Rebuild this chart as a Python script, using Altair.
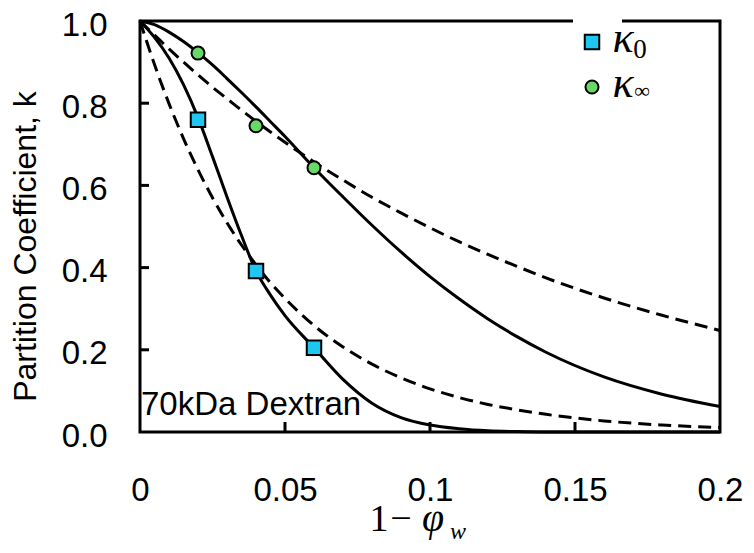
import altair as alt
import pandas as pd

# ---- data ----
phi = [0, 0.005, 0.01, 0.015, 0.02, 0.025, 0.03, 0.035, 0.04, 0.045, 0.05,
       0.06, 0.07, 0.08, 0.09, 0.10, 0.11, 0.12, 0.13, 0.14, 0.16, 0.18, 0.20]
k0_solid = [1.0, 0.96, 0.91, 0.845, 0.765, 0.67, 0.572, 0.478, 0.392, 0.333, 0.283,
            0.205, 0.128, 0.07, 0.035, 0.017, 0.008, 0.003, 0.001, 0.0, 0.0, 0.0, 0.0]
k0_dashed = [1.0, 0.894, 0.799, 0.714, 0.638, 0.570, 0.509, 0.455, 0.407, 0.363, 0.325,
             0.259, 0.207, 0.165, 0.132, 0.105, 0.084, 0.067, 0.054, 0.043, 0.027, 0.017, 0.011]
kinf_solid = [1.0, 0.991, 0.973, 0.950, 0.923, 0.893, 0.860, 0.826, 0.791, 0.755, 0.719,
              0.643, 0.572, 0.503, 0.438, 0.378, 0.324, 0.275, 0.232, 0.194, 0.134, 0.092, 0.062]
kinf_dashed = [1.0, 0.966, 0.932, 0.900, 0.869, 0.839, 0.811, 0.783, 0.756, 0.730, 0.705,
               0.657, 0.613, 0.571, 0.533, 0.497, 0.463, 0.432, 0.403, 0.375, 0.326, 0.284, 0.247]

meas_phi = [0.02, 0.04, 0.06]
k0_meas = [0.76, 0.392, 0.205]
kinf_meas = [0.922, 0.745, 0.643]

x_ticks = [0, 0.05, 0.1, 0.15, 0.2]
y_ticks = [0, 0.2, 0.4, 0.6, 0.8, 1.0]
x_inner_ticks = [0.05, 0.1, 0.15]
y_inner_ticks = [0.2, 0.4, 0.6, 0.8]

# ---- tables ----
solid_df = pd.concat([
    pd.DataFrame({"phi": phi, "k": k0_solid, "curve": "k0"}),
    pd.DataFrame({"phi": phi, "k": kinf_solid, "curve": "kinf"}),
])
dashed_df = pd.concat([
    pd.DataFrame({"phi": phi, "k": k0_dashed, "curve": "k0"}),
    pd.DataFrame({"phi": phi, "k": kinf_dashed, "curve": "kinf"}),
])
sq_df = pd.DataFrame({"phi": meas_phi, "k": k0_meas})
ci_df = pd.DataFrame({"phi": meas_phi, "k": kinf_meas})

SANS = "Liberation Sans"
SERIF = "Liberation Serif"

xs = alt.Scale(domain=[0, 0.2], nice=False, zero=False)
ys = alt.Scale(domain=[0, 1.0], nice=False, zero=False)

xaxis = alt.Axis(values=x_ticks, format="~g", ticks=False, tickSize=0, domain=False,
                 grid=False, labelFont=SANS, labelFontSize=33, labelColor="black",
                 labelPadding=42, labelFlush=False, title=None)
yaxis = alt.Axis(values=y_ticks, format=".1f", ticks=False, tickSize=0, domain=False,
                 grid=False, labelFont=SANS, labelFontSize=33, labelColor="black",
                 labelPadding=33, labelFlush=False, labelOffset=4,
                 title="Partition Coefficient, k", titleFont=SANS, titleFontSize=32,
                 titleFontWeight="normal", titleColor="black", titleX=-98, titleY=225)

X = alt.X("phi:Q", scale=xs, axis=xaxis)
Y = alt.Y("k:Q", scale=ys, axis=yaxis)

solid = alt.Chart(solid_df).mark_line(
    color="black", strokeWidth=3, interpolate="monotone"
).encode(x=X, y=Y, detail="curve:N")

dashed = alt.Chart(dashed_df).mark_line(
    color="black", strokeWidth=3, strokeDash=[13, 7], interpolate="monotone"
).encode(x=X, y=Y, detail="curve:N")

yt = alt.Chart(pd.DataFrame({"k": y_inner_ticks})).mark_rule(color="black", strokeWidth=3).encode(
    y=Y, x=alt.value(0), x2=alt.value(9)
)
xt = alt.Chart(pd.DataFrame({"phi": x_inner_ticks})).mark_rule(color="black", strokeWidth=3).encode(
    x=X, y=alt.value(411), y2=alt.value(401)
)

squares = alt.Chart(sq_df).mark_point(
    shape="square", filled=True, fill="#1EC6F0", stroke="black", strokeWidth=2,
    size=210, opacity=1
).encode(x=X, y=Y)

circles = alt.Chart(ci_df).mark_point(
    shape="circle", filled=True, fill="#66D966", stroke="black", strokeWidth=2,
    size=170, opacity=1
).encode(x=X, y=Y)

one = pd.DataFrame({"t": [""]})


def txt(label, x, y, size, font=SANS, style="normal", align="left", baseline="alphabetic"):
    return alt.Chart(pd.DataFrame({"t": [label]})).mark_text(
        font=font, fontSize=size, fontStyle=style, align=align, baseline=baseline,
        color="black"
    ).encode(text="t:N", x=alt.value(x), y=alt.value(y))


annot = txt("70kDa Dextran", 1, 394, 33)

# x-axis title: 1 − φ_w
xt1 = txt("1", 239, 510, 38, font=SERIF, align="center")
xt2 = txt("−", 261, 510, 38, font=SERIF, align="center")
xt3 = txt("φ", 293, 510, 40, font=SERIF, style="italic", align="center")
xt4 = txt("w", 318, 518, 24, font=SERIF, style="italic", align="center")

# legend
gap = alt.Chart(one).mark_rule(color="white", strokeWidth=6).encode(
    x=alt.value(433), x2=alt.value(482), y=alt.value(0)
)
leg_sq = alt.Chart(one).mark_point(
    shape="square", filled=True, fill="#1EC6F0", stroke="black", strokeWidth=2,
    size=210, opacity=1
).encode(x=alt.value(452), y=alt.value(21))
leg_ci = alt.Chart(one).mark_point(
    shape="circle", filled=True, fill="#66D966", stroke="black", strokeWidth=2,
    size=170, opacity=1
).encode(x=alt.value(452), y=alt.value(66))
lk1 = txt("κ", 483, 31, 44, font=SERIF, style="italic", align="center")
lk1s = txt("0", 500, 37, 27, font=SERIF, align="center")
lk2 = txt("κ", 483, 76, 44, font=SERIF, style="italic", align="center")
lk2s = txt("∞", 502, 77, 22, font=SERIF, align="center")

chart = alt.layer(
    solid, dashed, yt, xt, squares, circles, annot,
    xt1, xt2, xt3, xt4, gap, leg_sq, leg_ci, lk1, lk1s, lk2, lk2s
).properties(
    width=580, height=411,
    autosize=alt.AutoSizeParams(type="none"),
    padding={"left": 132, "top": 13, "right": 26, "bottom": 113},
    background="white",
).configure_view(stroke="black", strokeWidth=3)

chart.save("out.html", embed_options={"renderer": "svg", "actions": False})
